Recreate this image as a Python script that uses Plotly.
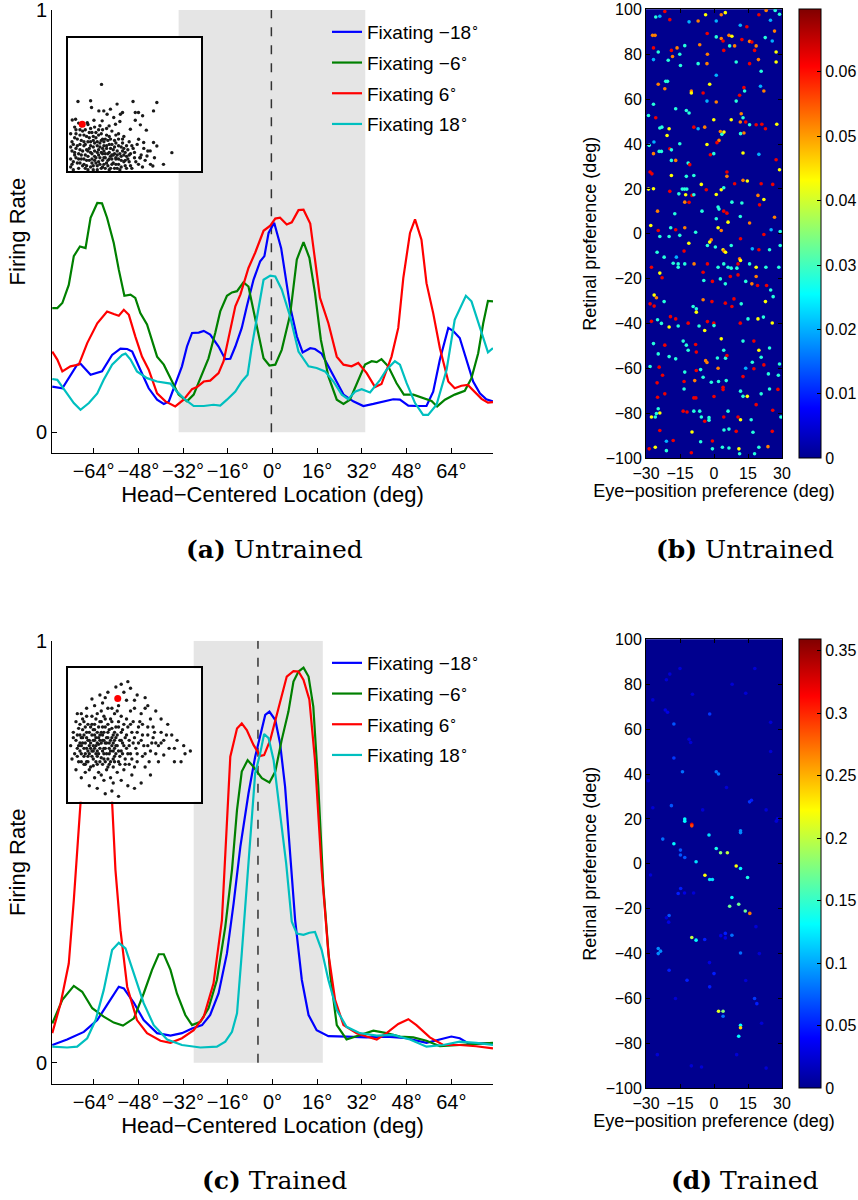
import numpy as np
import plotly.graph_objects as go

W, H = 858, 1200

# ---------------- Panel (a) Untrained tuning curves (x deg, firing rate) ----------------
a_blue = [(-78.8,.108),(-75.2,.104),(-69.9,.160),(-68.7,.162),(-65.1,.136),(-61,.144),(-57.4,.183),(-54.4,.198),
          (-52,.197),(-50.2,.191),(-47.3,.148),(-44.3,.104),(-41.3,.077),(-38.9,.067),(-37.1,.073),(-34.8,.116),
          (-32.4,.156),(-30.6,.203),(-28.8,.235),(-26.4,.236),(-24.6,.240),(-22.3,.231),(-19.3,.203),(-16.9,.173),
          (-15.1,.174),(-13.3,.203),(-11,.247),(-9.2,.298),(-6.8,.361),(-4.4,.405),(-2.9,.417),(-1.4,.472),
          (0.6,.496),(3.1,.436),(4.5,.377),(6.3,.298),(8.7,.227),(10.8,.189),(13.5,.199),(15.2,.197),(17.6,.186),
          (20,.156),(22.4,.124),(25.4,.089),(28.9,.073),(32.5,.062),(36.1,.067),(39.6,.073),(43.2,.078),(45.6,.077),
          (48.6,.063),(51.5,.062),(55.1,.062),(57.5,.096),(59.9,.172),(62.9,.247),(64.6,.240),(67,.223),(69.4,.172),
          (71.8,.120),(74.2,.092),(76.5,.078),(78.9,.073)]
a_green = [(-78.8,.294),(-77,.294),(-75.2,.306),(-72.9,.349),(-71.1,.417),(-68.9,.440),(-66.9,.436),(-65.1,.508),
           (-62.7,.543),(-61,.542),(-59.2,.508),(-56.8,.448),(-55,.385),(-53,.323),(-50.8,.326),(-49.1,.318),
           (-47.3,.282),(-44.9,.255),(-41.3,.179),(-38.9,.160),(-36.5,.128),(-33.6,.089),(-30.6,.073),(-28.2,.089),
           (-25.8,.128),(-22.9,.175),(-20.5,.235),(-18.7,.286),(-16.3,.323),(-14.5,.331),(-12.7,.334),(-10.4,.355),
           (-8.6,.345),(-6.8,.286),(-5,.227),(-3.2,.175),(-1.1,.158),(1,.160),(3.3,.195),(6.3,.278),(8.7,.409),
           (11.1,.450),(13.2,.413),(15.2,.330),(17.3,.219),(20,.132),(23,.077),(25.4,.067),(27.7,.077),(30.7,.124),
           (33.1,.160),(35.5,.168),(37.3,.166),(39,.173),(41.4,.156),(44.4,.116),(47,.089),(50.4,.089),(53.9,.081),
           (56.9,.074),(58.9,.061),(61.7,.077),(65.2,.089),(68.8,.098),(71.2,.128),(73.6,.187),(75.4,.258),
           (77.1,.311),(78.9,.310)]
a_red = [(-78.8,.191),(-77,.172),(-75.2,.144),(-72.3,.156),(-69.3,.160),(-66.3,.211),(-62.7,.258),(-59.2,.286),
         (-56.8,.280),(-55,.276),(-53.2,.290),(-51.4,.278),(-49.1,.227),(-46.7,.179),(-44.3,.148),(-41.3,.092),
         (-38.3,.073),(-34.8,.061),(-31.8,.077),(-28.8,.102),(-27,.107),(-24.6,.120),(-22.3,.122),(-19.3,.140),
         (-17.5,.168),(-15.1,.247),(-13.3,.298),(-11.5,.326),(-8.6,.389),(-6.2,.425),(-3.2,.477),(-0.8,.489),
         (1,.506),(2.7,.508),(5.1,.492),(6.9,.497),(9.3,.526),(11.1,.527),(13.5,.494),(15.2,.409),(17,.318),
         (20,.258),(23,.179),(25.4,.160),(28.3,.156),(30.7,.164),(33.7,.140),(36.7,.107),(39,.114),(42.6,.179),
         (45,.247),(46.8,.365),(49.2,.472),(51,.504),(53.3,.456),(55.1,.353),(57.5,.282),(59.9,.199),(62.9,.120),
         (65.2,.104),(67.6,.110),(69.9,.112),(71.8,.100),(74.8,.079),(77.1,.070),(78.9,.071)]
a_cyan = [(-78.8,.126),(-77,.124),(-74,.096),(-71.1,.069),(-68.7,.053),(-65.7,.069),(-62.7,.092),(-60.4,.124),
          (-57.4,.160),(-53.8,.183),(-52.6,.186),(-50.8,.172),(-48.5,.144),(-44.9,.128),(-41.3,.120),(-36.5,.115),
          (-34.2,.096),(-31.2,.077),(-28.2,.062),(-24.6,.062),(-21.1,.065),(-18.7,.063),(-16.3,.077),(-13.3,.096),
          (-11,.120),(-8.9,.136),(-7.4,.203),(-5.6,.274),(-3.2,.361),(-0.8,.371),(1,.369),(3.3,.338),(6.3,.274),
          (9.3,.191),(12.9,.156),(15.8,.152),(18.8,.144),(21.8,.120),(24.8,.089),(27.1,.078),(29.5,.096),
          (31.9,.102),(34.9,.094),(38.5,.124),(40.8,.148),(43.8,.168),(45.6,.160),(48,.116),(51,.069),(53.9,.041),
          (55.7,.041),(58.7,.065),(62.3,.148),(65.2,.266),(69.2,.323),(71.2,.310),(74.2,.247),(77.1,.189),(78.9,.199)]

# ---------------- Panel (c) Trained tuning curves ----------------
c_blue = [(-78.8,.042),(-73.5,.055),(-67.5,.073),(-62.7,.101),(-59.2,.137),(-55,.180),(-53.2,.176),(-49.6,.142),
          (-46.1,.101),(-41.3,.070),(-36.5,.064),(-32.4,.070),(-28.8,.081),(-25.2,.089),(-22.3,.113),(-19.3,.164),
          (-16.3,.259),(-13.9,.378),(-11.5,.512),(-8.6,.638),(-6.2,.725),(-3.8,.796),(-2.6,.824),(-1.1,.832),
          (1,.812),(2.7,.757),(4.5,.654),(6.3,.496),(8.1,.338),(10.5,.196),(12.9,.113),(15.8,.077),(20,.063),
          (26.5,.062),(33.7,.060),(40.8,.062),(48,.058),(55.1,.047),(59.9,.055),(64,.062),(67,.058),(70.6,.044),
          (75.4,.046),(78.9,.046)]
c_green = [(-78.8,.093),(-75.2,.149),(-71.1,.182),(-68.1,.168),(-64.5,.129),(-60.4,.109),(-56.8,.095),(-53.5,.088),
           (-49.6,.105),(-46.1,.164),(-43.1,.220),(-40.7,.257),(-38.9,.257),(-36.5,.220),(-34.2,.164),(-31.2,.113),
           (-28.8,.089),(-25.8,.097),(-22.9,.129),(-19.9,.196),(-16.9,.322),(-14.5,.457),(-12.7,.599),(-11,.690),
           (-8.9,.717),(-6.8,.701),(-3.8,.674),(-1.1,.664),(1,.690),(3.3,.765),(5.7,.832),(7.5,.903),(9.3,.927),
           (11.1,.936),(12.9,.915),(14.6,.844),(16.4,.654),(18.2,.417),(20.6,.212),(23,.089),(26.5,.055),(31.3,.066),
           (36.1,.076),(40.8,.070),(45.6,.062),(50.4,.060),(55.1,.052),(59.9,.039),(67,.042),(72.9,.046),(78.9,.047)]
c_red = [(-78.8,.070),(-75.8,.141),(-72.9,.235),(-71.1,.385),(-68.7,.615),(-66,.84),(-63,.93),(-60.2,.84),
         (-57.4,.618),(-56.2,.457),(-54.4,.314),(-52,.180),(-48.5,.101),(-44.9,.070),(-40.1,.052),(-36.5,.047),
         (-32.4,.058),(-28.2,.077),(-24.6,.109),(-21.1,.188),(-18.1,.338),(-15.1,.725),(-12.7,.792),(-11,.804),
         (-9.2,.788),(-6.8,.753),(-4.4,.727),(-3,.729),(-0.8,.765),(1.5,.824),(3.3,.875),(5.1,.915),(7.5,.928),
         (9.3,.927),(11.1,.907),(13.2,.860),(15.2,.717),(17.6,.457),(20,.259),(22.4,.149),(25.4,.089),(30.1,.070),
         (33.7,.062),(37.3,.055),(40.8,.070),(45,.092),(48.6,.103),(51.5,.089),(56.3,.060),(61.1,.042),(67,.042),
         (72.9,.039),(78.9,.034)]
c_cyan = [(-78.8,.038),(-73.5,.036),(-69.9,.038),(-66.3,.058),(-63.3,.101),(-60.4,.172),(-57.4,.267),(-55,.284),
          (-52.6,.271),(-49.6,.212),(-46.1,.141),(-42.5,.089),(-37.7,.055),(-32.4,.042),(-25.8,.036),(-19.9,.038),
          (-16.9,.050),(-14.5,.073),(-12.7,.117),(-11,.259),(-8.6,.480),(-6.2,.686),(-4.4,.733),(-3,.779),
          (-1.4,.769),(0.4,.717),(2.7,.591),(4.9,.472),(6.9,.334),(8.7,.306),(11.1,.303),(13.2,.308),(15.2,.310),
          (17.6,.267),(20,.196),(23,.125),(26.5,.085),(31.3,.070),(37.3,.064),(43.2,.066),(49.2,.055),(55.1,.038),
          (61.1,.042),(67,.050),(72.9,.047),(78.9,.042)]

legend_names = ["Fixating −18<sup>∘</sup>", "Fixating −6<sup>∘</sup>", "Fixating 6<sup>∘</sup>", "Fixating 18<sup>∘</sup>"]
x_tick_vals = [-64, -48, -32, -16, 0, 16, 32, 48, 64]
x_tick_text = ["−64°", "−48°", "−32°", "−16°", "0°", "16°", "32°", "48°", "64°"]
a_window = (-33.6, 33.2)
a_centre = -0.4
c_window = (-28.2, 18.0)
c_centre = -5.2

# ---------------- Inset scatter clouds (normalised inset coordinates) ----------------
a_inset = [(0.252,0.651),(0.075,0.523),(0.17,0.528),(0.177,0.477),(0.269,0.452),(0.319,0.465),(0.369,0.503),
           (0.489,0.523),(0.668,0.515),(0.643,0.452),(0.506,0.44),(0.53,0.44),(0.561,0.415),(0.394,0.427),
           (0.41,0.44),(0.344,0.402),(0.294,0.427),(0.232,0.452),(0.032,0.384),(0.057,0.389),(0.145,0.364),
           (0.195,0.382),(0.257,0.377),(0.309,0.339),(0.357,0.352),(0.39,0.372),(0.469,0.314),(0.506,0.382),
           (0.544,0.347),(0.589,0.307),(0.531,0.239),(0.569,0.214),(0.643,0.214),(0.668,0.188),(0.618,0.151),
           (0.781,0.138),(0.718,0.05),(0.638,0.038),(0.544,0.1),(0.594,0.113),
           (0.03,0.05),(0.05,0.12),(0.04,0.2),(0.06,0.28),(0.08,0.02),(0.08,0.09),(0.09,0.16),(0.1,0.23),(0.11,0.3),
           (0.12,0.05),(0.13,0.12),(0.12,0.19),(0.14,0.26),(0.15,0.01),(0.16,0.08),(0.15,0.15),(0.17,0.22),
           (0.18,0.29),(0.19,0.04),(0.2,0.11),(0.19,0.18),(0.21,0.25),(0.22,0.01),(0.23,0.07),(0.22,0.14),
           (0.24,0.21),(0.25,0.28),(0.26,0.03),(0.27,0.1),(0.26,0.17),(0.28,0.24),(0.29,0.06),(0.3,0.13),
           (0.31,0.2),(0.32,0.02),(0.33,0.09),(0.34,0.16),(0.35,0.23),(0.36,0.05),(0.37,0.12),(0.38,0.19),
           (0.39,0.01),(0.4,0.08),(0.41,0.15),(0.43,0.04),(0.44,0.11),(0.46,0.07),(0.48,0.02),(0.5,0.1),
           (0.02,0.09),(0.06,0.17),(0.07,0.24),(0.1,0.12),(0.11,0.04),(0.13,0.2),(0.14,0.08),(0.16,0.17),
           (0.17,0.03),(0.18,0.13),(0.2,0.21),(0.21,0.06),(0.23,0.16),(0.24,0.1),(0.25,0.02),(0.27,0.19),
           (0.28,0.13),(0.3,0.04),(0.31,0.09),(0.32,0.17),(0.34,0.06),(0.35,0.13),(0.37,0.02),(0.38,0.09),
           (0.4,0.18),(0.42,0.12),(0.45,0.16),(0.47,0.13),(0.53,0.05),(0.55,0.12),(0.58,0.08),(0.6,0.15),
           (0.52,0.2),(0.46,0.22),(0.42,0.26),(0.38,0.28),(0.33,0.3),(0.29,0.32),(0.24,0.34),(0.2,0.33),
           (0.15,0.35),(0.1,0.34),(0.05,0.33),(0.04,0.01),(0.09,0.27),(0.13,0.31),(0.19,0.26),(0.26,0.24),
           (0.31,0.26),(0.36,0.27),(0.41,0.21),(0.44,0.19),(0.49,0.17),(0.57,0.17),(0.62,0.05),(0.65,0.1),
           (0.07,0.06),(0.14,0.04),(0.2,0.08),(0.27,0.05),(0.33,0.12),(0.22,0.19),(0.16,0.25),(0.09,0.2),
           (0.03,0.15),(0.12,0.09),(0.26,0.13),(0.36,0.09),(0.43,0.08),(0.29,0.17),(0.18,0.06),(0.05,0.25),
           (0.04,0.07),(0.06,0.1),(0.05,0.14),(0.03,0.22),(0.07,0.19),(0.08,0.13),(0.09,0.06),(0.1,0.09),
           (0.11,0.15),(0.12,0.22),(0.12,0.27),(0.13,0.02),(0.14,0.16),(0.15,0.11),(0.15,0.22),(0.16,0.29),
           (0.17,0.14),(0.17,0.19),(0.18,0.09),(0.19,0.01),(0.19,0.23),(0.2,0.15),(0.21,0.1),(0.21,0.29),
           (0.22,0.04),(0.22,0.22),(0.23,0.12),(0.23,0.27),(0.24,0.05),(0.24,0.18),(0.25,0.14),(0.25,0.23),
           (0.26,0.08),(0.26,0.31),(0.27,0.15),(0.27,0.22),(0.28,0.02),(0.28,0.1),(0.29,0.19),(0.29,0.27),
           (0.3,0.08),(0.3,0.23),(0.31,0.14),(0.31,0.01),(0.32,0.11),(0.32,0.24),(0.33,0.05),(0.33,0.2),
           (0.34,0.12),(0.35,0.02),(0.35,0.18),(0.36,0.1),(0.36,0.21),(0.37,0.15),(0.38,0.05),(0.38,0.24),
           (0.39,0.13),(0.4,0.03),(0.4,0.11),(0.41,0.24),(0.42,0.07),(0.42,0.17),(0.43,0.14),(0.44,0.02),
           (0.45,0.09),(0.46,0.12),(0.47,0.04),(0.48,0.19),(0.5,0.14),(0.51,0.07),(0.54,0.1),(0.56,0.03),
           (0.02,0.28),(0.02,0.18),(0.02,0.03),(0.06,0.31),(0.09,0.31),(0.08,0.36),(0.17,0.32),(0.23,0.31)]
a_inset_marked = [(0.107, 0.352)]

c_inset = [(0.45,0.9),(0.4,0.88),(0.36,0.86),(0.47,0.85),(0.3,0.82),(0.24,0.8),(0.18,0.77),(0.52,0.8),(0.58,0.78),
           (0.6,0.72),(0.66,0.68),(0.7,0.62),(0.75,0.58),(0.78,0.5),(0.82,0.46),(0.88,0.36),(0.85,0.3),(0.8,0.3),
           (0.72,0.35),(0.68,0.3),(0.62,0.2),(0.58,0.26),(0.55,0.14),(0.5,0.1),(0.45,0.12),(0.38,0.04),(0.33,0.08),
           (0.28,0.06),(0.22,0.1),(0.16,0.12),(0.1,0.18),(0.06,0.24),(0.03,0.32),(0.02,0.42),(0.04,0.52),(0.06,0.6),
           (0.1,0.66),(0.14,0.7),(0.2,0.72),(0.26,0.74),(0.55,0.66),(0.64,0.56),(0.72,0.46),(0.76,0.4),(0.66,0.44),
           (0.62,0.38),(0.6,0.5),(0.56,0.58),(0.5,0.7),(0.44,0.76),(0.33,0.7),(0.92,0.38),(0.87,0.42),(0.8,0.4),
           (0.7,0.52),(0.52,0.3),(0.48,0.2),(0.4,0.16),(0.34,0.14),(0.27,0.16),(0.2,0.18),(0.12,0.28),
           (0.08,0.3),(0.1,0.36),(0.08,0.42),(0.1,0.48),(0.08,0.55),(0.12,0.6),(0.14,0.52),(0.13,0.44),(0.15,0.38),
           (0.14,0.3),(0.16,0.24),(0.18,0.34),(0.19,0.42),(0.18,0.5),(0.2,0.58),(0.18,0.64),(0.22,0.66),(0.24,0.6),
           (0.22,0.52),(0.24,0.46),(0.22,0.38),(0.21,0.3),(0.23,0.22),(0.26,0.28),(0.27,0.36),(0.28,0.44),
           (0.26,0.5),(0.28,0.56),(0.27,0.64),(0.3,0.7),(0.32,0.62),(0.3,0.52),(0.32,0.46),(0.31,0.4),(0.3,0.32),
           (0.29,0.24),(0.32,0.18),(0.34,0.26),(0.35,0.34),(0.36,0.42),(0.34,0.5),(0.36,0.56),(0.35,0.66),
           (0.38,0.72),(0.4,0.64),(0.38,0.6),(0.4,0.52),(0.39,0.46),(0.4,0.38),(0.38,0.3),(0.37,0.22),(0.42,0.24),
           (0.43,0.32),(0.44,0.4),(0.43,0.48),(0.45,0.56),(0.44,0.62),(0.47,0.68),(0.49,0.6),(0.48,0.52),
           (0.49,0.44),(0.47,0.36),(0.46,0.28),(0.5,0.26),(0.52,0.36),(0.53,0.44),(0.52,0.52),(0.54,0.6),
           (0.56,0.5),(0.57,0.42),(0.56,0.34),(0.6,0.42),(0.61,0.3),(0.64,0.48),(0.66,0.36),(0.68,0.42),(0.12,0.4),
           (0.16,0.46),(0.2,0.46),(0.24,0.4),(0.25,0.33),(0.19,0.27),(0.15,0.34),(0.17,0.56),(0.26,0.56),
           (0.33,0.55),(0.34,0.38),(0.29,0.48),(0.41,0.44),(0.36,0.48),(0.21,0.62),(0.11,0.54),(0.06,0.46),
           (0.09,0.38),(0.13,0.22),(0.25,0.2),(0.31,0.28),(0.23,0.43),(0.17,0.4),(0.27,0.4),(0.33,0.42),(0.2,0.5),
           (0.15,0.58),(0.25,0.68),(0.37,0.68),(0.42,0.58),(0.46,0.46),(0.39,0.34),(0.35,0.3),(0.28,0.3),
           (0.22,0.34),(0.05,0.36),(0.04,0.48),(0.07,0.66),(0.28,0.78),(0.42,0.82),(0.5,0.76),(0.58,0.7),
           (0.62,0.62),(0.11,0.44),(0.14,0.48),(0.19,0.38),(0.23,0.48),(0.27,0.46),(0.31,0.36),(0.21,0.42),
           (0.16,0.42),(0.13,0.36),(0.25,0.52),(0.3,0.58),(0.19,0.54),(0.35,0.46),(0.09,0.5),(0.07,0.34),
           (0.07,0.4),(0.07,0.5),(0.09,0.44),(0.09,0.58),(0.1,0.3),(0.1,0.42),(0.11,0.48),(0.11,0.62),(0.12,0.34),
           (0.12,0.5),(0.13,0.28),(0.13,0.56),(0.14,0.4),(0.14,0.64),(0.15,0.46),(0.15,0.3),(0.16,0.36),(0.16,0.52),
           (0.17,0.26),(0.17,0.44),(0.18,0.38),(0.18,0.58),(0.19,0.46),(0.19,0.32),(0.2,0.4),(0.2,0.54),(0.21,0.36),
           (0.21,0.48),(0.22,0.28),(0.22,0.44),(0.23,0.56),(0.23,0.36),(0.24,0.5),(0.24,0.3),(0.25,0.44),(0.25,0.6),
           (0.26,0.38),(0.26,0.46),(0.27,0.32),(0.27,0.52),(0.28,0.4),(0.28,0.62),(0.29,0.36),(0.29,0.44),(0.3,0.48),
           (0.3,0.26),(0.31,0.54),(0.31,0.44),(0.32,0.38),(0.32,0.3),(0.33,0.48),(0.33,0.6),(0.34,0.44),(0.34,0.32),
           (0.35,0.52),(0.35,0.4),(0.36,0.36),(0.37,0.5),(0.37,0.42),(0.38,0.56),(0.38,0.38),(0.39,0.28),(0.4,0.46),
           (0.41,0.36),(0.41,0.54),(0.42,0.42),(0.43,0.28),(0.44,0.5),(0.45,0.36),(0.46,0.42),(0.47,0.58),(0.48,0.32),
           (0.5,0.48),(0.51,0.4),(0.53,0.56),(0.55,0.46),(0.58,0.36),(0.6,0.56),(0.63,0.44),(0.65,0.52),(0.7,0.44),
           (0.74,0.5)]
c_inset_marked = [(0.374, 0.774)]

# ---------------- Heat maps: (eye-position pref, retinal pref, weight) ----------------
b_dots = [(-21.7,99,.062),(-3.7,97.6,.043),(3.2,97.6,.052),(5,98.5,.043),(23,99.5,.052),(27,99.5,.028),(28.9,97.8,.028),
 (19.8,97.6,.062),(-25.7,96.6,.028),(-23.9,96.9,.02),(-19.5,95.4,.062),(-7,94.8,.052),(-11,94.4,.02),(1,94.8,.02),
 (11.6,92.9,.02),(14.5,92.2,.062),(24.9,95.1,.02),(-27.1,88.4,.052),(-26,88.4,.052),(-3,89.2,.062),(1,87.7,.028),
 (3.2,87,.052),(4,85.9,.062),(6.6,88.4,.052),(7.9,88,.043),(6.9,83.7,.028),(9.1,83.7,.052),(12.3,86.5,.062),
 (15.7,85.7,.052),(16.7,85.4,.062),(18.6,83.7,.052),(17.9,81.7,.062),(22.6,87.4,.028),(26.7,90.3,.052),
 (25.7,85.9,.02),(-26.7,82.8,.062),(-24.6,81,.028),(-18.8,81.7,.062),(-16.3,82.8,.052),(-12.9,83.8,.028),
 (-15.1,80,.028),(-6.3,84.2,.052),(-2.9,80,.052),(4.3,81.7,.062),(27.4,81,.043),(-20.2,77.3,.028),(-26.7,77.6,.02),
 (-18.3,79,.052),(-14.8,75,.028),(-7,75.8,.028),(-3.1,75.8,.052),(9.8,76.5,.028),(15.7,75.8,.062),(19.6,77.6,.052),
 (27.4,76.5,.043),(20.8,72.4,.028),(1,70.6,.02),(-24.6,66.6,.052),(-21.3,67.9,.028),(-20.5,67.9,.028),
 (-21.7,64.6,.052),(-10,63.6,.052),(-10,62.7,.043),(-4.8,62.7,.062),(-1.9,66.6,.043),(11.3,61.7,.062),
 (13.2,65.1,.062),(13.5,63.6,.028),(20.5,65.7,.02),(22,63.6,.052),(9.8,59.1,.028),(-26.7,57.7,.028),(1,58.7,.052),
 (-3.1,59.1,.02),(-16.9,55.7,.028),(-12.2,54.9,.028),(-11,53.8,.028),(-28.9,52.7,.028),(-25.7,51.7,.062),
 (-0.1,50.8,.043),(7.6,50.8,.043),(12,53.5,.052),(12.8,51.7,.028),(11.6,49.8,.052),(14,49.8,.062),(15.7,48.6,.028),
 (18.6,48.6,.062),(21.1,48.8,.062),(22.7,46.8,.062),(27.7,48.8,.043),(-8.9,47.5,.062),(-7,46.8,.02),(-23.9,47.1,.028),
 (-23,47.5,.028),(-19.8,46.8,.043),(-20.7,43.8,.043),(-4.1,47.5,.052),(2.8,45.6,.052),(3.5,44.3,.028),(4.4,45.3,.043),
 (2.2,41.6,.052),(1.3,40.6,.062),(11.7,44.6,.028),(13.2,44.9,.052),(-28.6,39.4,.028),(-26.5,40.9,.02),(-15.1,40.1,.028),
 (-3.1,39.8,.043),(-24.2,36.7,.028),(-23.2,36.7,.028),(-26.7,35.7,.052),(-19.5,37.9,.062),(-18.8,37.4,.028),
 (-18.8,32.7,.028),(-16.9,32.7,.052),(-11.4,31.5,.028),(-10.7,30.8,.062),(-0.1,35.7,.028),(-1.6,35.2,.062),
 (12.8,36,.043),(19.8,35.4,.02),(27.4,33,.062),(28.9,28.5,.043),(-28.2,27.5,.062),(-27.4,26.7,.062),(-18.8,26,.043),
 (-12.2,25.6,.028),(-8.9,26,.028),(-5.6,22,.043),(5.7,27.5,.062),(5.7,25.6,.052),(9.1,22.3,.062),(12.8,23.8,.052),
 (14.7,23.5,.043),(20.8,22.3,.062),(25.9,22,.062),(-28.9,19.9,.043),(-26.7,20.1,.043),(-19.5,18.9,.062),
 (-15.5,17.8,.028),(-14,19.9,.028),(-13,19.9,.028),(-12,19.9,.028),(-12.5,17.4,.043),(-9.7,17.1,.062),(-8.9,17.4,.028),
 (-12.9,14.1,.052),(-11,14,.062),(-24.9,10.1,.052),(-17.3,8.9,.028),(-3.4,19.6,.062),(3.2,19.6,.043),(1,17.5,.043),
 (4.3,20.5,.028),(12.3,13.7,.028),(20.1,12.9,.062),(22,15.3,.043),(19.4,17.1,.052),(7.9,14.1,.028),(1.8,11.9,.028),
 (2.2,11,.028),(4.3,10.1,.062),(5.7,9.2,.062),(6.2,5.2,.043),(-5.3,10.1,.028),(1,6.7,.028),(1.8,2.7,.043),
 (3.2,1.5,.052),(11.6,7.7,.028),(15.7,4.8,.052),(25.2,1.8,.02),(26.7,7.4,.052),(-27.9,3.7,.043),(-24.6,1.5,.062),
 (-19.1,2.7,.028),(-16.9,1.8,.062),(-12.9,2.7,.052),(-15.1,-0.7,.028),(-8.1,0.7,.028),(29.2,1,.028),(22,-0.3,.062),
 (-23.9,-1.2,.028),(-19.8,-1.2,.028),(-11.1,-4.2,.043),(-1.2,-2.7,.052),(-1.9,-3.7,.043),(-2.9,-5.2,.028),
 (0.6,-5.9,.028),(4,-7.1,.043),(4.4,-7.7,.052),(5.1,-8.2,.043),(7.6,-5.2,.028),(11.7,-2.2,.062),(16.9,-6.7,.02),
 (19.8,-7.1,.062),(24.5,-7.1,.028),(29.2,-5.2,.028),(-13.2,-7.7,.062),(-16.6,-10.4,.02),(-25.1,-8.2,.028),
 (-22,-10.4,.028),(-27.6,-14.9,.062),(-18,-13.1,.028),(-15.8,-13.4,.028),(-15.8,-14.9,.028),(-12.9,-13.4,.028),
 (-8.8,-13.4,.052),(-2.9,-13.4,.062),(1.8,-14.9,.028),(4.3,-13.4,.028),(6.2,-14.9,.028),(7.6,-15.3,.028),
 (10.1,-15.3,.028),(10.6,-13.4,.062),(11.3,-11.1,.052),(11.7,-11.9,.043),(15.7,-13.4,.028),(18.6,-14.9,.043),
 (22.9,-14.9,.028),(28.6,-14.9,.028),(-4.8,-17.1,.062),(-4.5,-20.8,.028),(-23.9,-17.5,.043),(-22.9,-19.6,.062),
 (-0.7,-21.2,.062),(2.8,-20.1,.028),(5,-22.3,.028),(7.2,-19,.062),(10.6,-18.3,.062),(14,-21.2,.028),(16.7,-22.3,.052),
 (18.6,-19,.052),(19.2,-23,.062),(23.2,-23,.062),(25,-25,.028),(26.1,-28,.028),(-26.4,-27.3,.043),(-25.4,-28.5,.052),
 (-28.2,-31.2,.062),(-26.4,-32.2,.062),(-22,-30.2,.028),(-27.6,-39,.062),(-23.2,-39.9,.028),(-24.9,-38.3,.028),
 (-19.2,-36.9,.062),(-16.9,-37.9,.062),(-9.2,-32.4,.028),(-7.8,-33.4,.028),(-7.8,-34.9,.043),(-4.8,-29.4,.052),
 (-0.9,-30.2,.062),(5,-30.9,.062),(7.9,-32.4,.062),(8.8,-29,.062),(12,-31.2,.028),(22.7,-30.2,.043),(19.4,-37.9,.043),
 (21.8,-37.1,.028),(15,-37.9,.028),(-11.4,-39.8,.062),(-2.9,-39.1,.062),(-0.1,-39.8,.062),(0,-40.9,.028),
 (11.6,-39.8,.062),(25.7,-39.7,.043),(-19.8,-41.5,.043),(-15.8,-41.1,.028),(-6.6,-41.1,.028),(-4.1,-43.1,.043),
 (-26.7,-48.9,.028),(-21.7,-49.6,.062),(-13.6,-47.8,.028),(-12.2,-49.6,.028),(-8.1,-49.3,.062),(-7.8,-52.7,.062),
 (-11.4,-51.9,.028),(3.2,-46.8,.043),(4.3,-51.9,.028),(5.1,-55.4,.028),(5.7,-54.2,.062),(12.8,-47.8,.028),
 (17.6,-47.8,.062),(19.8,-51.9,.043),(24.5,-50.9,.028),(-24.6,-53.5,.028),(-19.8,-54.7,.028),(-16.9,-55.7,.028),
 (-3.7,-56.5,.052),(-3.1,-57.3,.052),(1.5,-55.3,.028),(16.9,-57.2,.028),(20.8,-55,.028),(22,-58.4,.062),
 (-28.2,-59.1,.028),(-24.2,-59.4,.062),(28.9,-58,.028),(1.8,-59.9,.052),(14,-59.9,.02),(17.6,-60.1,.062),
 (-7.8,-60.9,.062),(-5.9,-60.5,.028),(-12.9,-61.6,.028),(-22.7,-63,.062),(28.4,-63,.028),(24,-62.4,.028),
 (12.8,-63.6,.062),(-13.2,-65.8,.062),(-8.5,-65.4,.052),(-25.1,-66.4,.062),(-4.8,-63.9,.028),(-1.2,-66.1,.028),
 (2,-65.8,.028),(5.4,-65.4,.028),(4,-68.4,.062),(4,-69.4,.062),(-13.2,-69.1,.028),(11.7,-70.1,.028),(12.8,-72.4,.028),
 (14.7,-72.4,.043),(20.8,-71.3,.028),(24.5,-69.1,.028),(28.2,-69.3,.062),(-24.9,-72.8,.062),(-21.7,-71.3,.062),
 (-8.9,-73.1,.062),(-8,-73.1,.062),(0,-72.5,.062),(18.6,-76.1,.062),(-24.6,-77.9,.028),(-25.4,-80.1,.028),
 (-23.9,-79.8,.043),(-27.6,-81.6,.043),(-25.9,-81.6,.028),(-13.6,-79,.062),(-11.9,-79.4,.062),(-8.9,-79,.028),
 (-6.3,-79,.028),(-5.6,-81.6,.028),(-2.2,-81.9,.028),(-2.2,-83,.028),(-4.1,-83.5,.062),(4.3,-81.6,.062),(6.2,-79,.028),
 (10.6,-81.6,.062),(11.7,-82.8,.043),(16.4,-82.8,.028),(25.9,-78.6,.062),(29.5,-81.6,.028),(-23.9,-87.6,.062),
 (-9.7,-88.3,.043),(4.4,-87.4,.028),(6.6,-87,.028),(9.8,-88,.062),(17.2,-88.4,.028),(25.7,-88,.062),(-21,-92.4,.02),
 (-18,-92.1,.062),(-5.9,-92.6,.028),(-0.7,-92.3,.062),(-28.6,-95.8,.062),(-25.9,-95.1,.043),(-21,-96.6,.028),
 (-10,-97.5,.062),(-0.7,-95.8,.028),(3.7,-95.1,.028),(6.6,-95.4,.028),(11,-95.8,.043),(11.3,-98,.028),
 (17.9,-98,.028),(19.8,-95.1,.028),(23.8,-94.8,.052)]

d_dots = [(-12.9,19.9,.13),(-12.9,19,.13),(-9.8,17.6,.32),(-9.8,16.9,.29),(-2.2,12.8,.12),(-22.6,11,.08),(-17.7,8.9,.13),
 (1,6.8,.14),(2.9,4.9,.18),(5.9,4.9,.2),(-14.8,6.1,.07),(-14.8,3.9,.07),(-12.9,2.8,.07),(-7.9,0.9,.12),(9.8,-1,.22),
 (11.7,-2.1,.13),(-4,-5.1,.22),(-1.9,-7,.12),(-0.7,-7,.12),(14.8,-6.1,.14),(7.9,-15,.13),(6.9,-18.9,.17),(10.9,-18,.17),
 (13.8,-21,.17),(15.8,-22.1,.27),(-19.8,-23,.07),(-9.8,-32.8,.2),(-7.9,-34,.13),(-24.6,-37.7,.09),(-24.6,-40,.09),
 (-23.6,-38.9,.09),(11.7,-39.7,.08),(2,-65.7,.21),(4,-65.7,.18),(4,-67.9,.08),(11.7,-71.9,.13),(11.7,-73,.24),
 (10.9,-76.8,.13),(-17.7,62.3,.07),(-17.7,47.1,.06),(-13.9,41,.08),(1,41,.08),(2,40,.08),(-18.8,25.9,.07),
 (11.7,14.7,.09),(11.7,13.9,.09),(-1.9,66.7,.06),(15.7,27.6,.06),(16.5,28.3,.05),(-19.8,-47.4,.05),(-11.9,-51.9,.05),
 (17.9,-60,.06),(18.9,-62.3,.05),(-14.7,-11,.05),(-15.8,-13.2,.05),(-4.1,-33.7,.05),(5,-31,.05),(7.9,-31.8,.08),
 (-1.9,-54.8,.05),(0,-48.9,.05),(-19.5,84.5,.025),(-21,82,.025),(-27,73,.025),(-9.5,75.5,.025),(-21.5,68.5,.03),
 (-20.5,67.5,.03),(-11,55.5,.025),(-10.3,54,.025),(-5,24,.025),(23,24,.025),(27.5,19,.025),(-9,-13,.025),
 (18.5,-28,.025),(14,-52,.025),(21,-71,.025),(-5.5,-90.5,.025),(23,-91,.025),(-2,-44,.03),(5.5,34,.025),(28,20,.025),
 (-28,-5,.025),(10,-85,.025),(-17,-60,.025),(25,50,.025),(8,80,.025),(-25,-85,.025),(20,-40,.025),(-10,-90,.025),
 (3,-32,.03),(5,-33,.03),(-13,-13,.03),(-20,-26,.03),(-21,-24,.025),(14,76,.025),(18,87,.025),(-15,87,.025),
 (25,63,.025),(-27,25,.025),(-29,37,.025)]

eye_range = [-30, 30]
ret_range = [-100, 100]
b_cbar_ticks = [0, 0.01, 0.02, 0.03, 0.04, 0.05, 0.06]
d_cbar_ticks = [0, 0.05, 0.1, 0.15, 0.2, 0.25, 0.3, 0.35]
b_zmax, d_zmax = 0.0697, 0.359

captions = ["<b>(a)</b> Untrained", "<b>(b)</b> Untrained", "<b>(c)</b> Trained", "<b>(d)</b> Trained"]

# ---------------- helpers ----------------
def fx(px):
    return px / W

def fy(py):
    return 1 - py / H

JET = [[0, "#00008F"], [0.111, "#0000FF"], [0.365, "#00FFFF"], [0.619, "#FFFF00"], [0.873, "#FF0000"], [1, "#800000"]]
FONT = "Liberation Sans, Arial, sans-serif"
COLORS = ["#0000FF", "#008000", "#FF0000", "#00BFBF"]

fig = go.Figure()

# Curves panels
for curves, xa, ya, leg in [([a_blue, a_green, a_red, a_cyan], "x", "y", "legend"),
                             ([c_blue, c_green, c_red, c_cyan], "x4", "y4", "legend2")]:
    for k, (pts, col, name) in enumerate(zip(curves, COLORS, legend_names)):
        xs, ys = zip(*pts)
        fig.add_trace(go.Scatter(x=xs, y=ys, mode="lines", line=dict(color=col, width=2.2),
                                 name=name, xaxis=xa, yaxis=ya, legend=leg, legendgroup=f"{leg}{k}",
                                 hoverinfo="skip"))

# Insets
for pts, marked, xa, ya in [(a_inset, a_inset_marked, "x2", "y2"), (c_inset, c_inset_marked, "x5", "y5")]:
    xs, ys = zip(*pts)
    fig.add_trace(go.Scatter(x=xs, y=ys, mode="markers", marker=dict(color="#1a1a1a", size=3.4),
                             xaxis=xa, yaxis=ya, showlegend=False, hoverinfo="skip"))
    mx, my = zip(*marked)
    fig.add_trace(go.Scatter(x=mx, y=my, mode="markers", marker=dict(color="#FF0000", size=7),
                             xaxis=xa, yaxis=ya, showlegend=False, hoverinfo="skip"))

# Heatmaps: zero-valued background field plus the weight dots coloured on the same scale
for dots, xa, ya, zmax, ticks, top, bot in [(b_dots, "x3", "y3", b_zmax, b_cbar_ticks, 9.3, 458.3),
                                           (d_dots, "x6", "y6", d_zmax, d_cbar_ticks, 639.3, 1088.3)]:
    fig.add_trace(go.Heatmap(x=eye_range, y=ret_range, z=[[0, 0], [0, 0]], colorscale=JET, zmin=0, zmax=zmax,
                             xaxis=xa, yaxis=ya, hoverinfo="skip", showlegend=False,
                             colorbar=dict(x=fx(799), xanchor="left", y=fy(bot), yanchor="bottom",
                                           len=(bot - top) / H, lenmode="fraction", thickness=21.7,
                                           thicknessmode="pixels", xpad=0, ypad=0, outlinecolor="black",
                                           outlinewidth=1, tickvals=ticks, ticks="inside", ticklen=4,
                                           tickcolor="black", tickfont=dict(family=FONT, size=16, color="black"))))
    ex, ry, v = zip(*dots)
    fig.add_trace(go.Scatter(x=ex, y=ry, mode="markers", xaxis=xa, yaxis=ya, showlegend=False, hoverinfo="skip",
                             marker=dict(size=3.6, color=v, colorscale=JET, cmin=0, cmax=zmax, showscale=False,
                                         line=dict(width=0))))

layout = dict(width=W, height=H, margin=dict(l=0, r=0, t=0, b=0, autoexpand=False), autosize=False,
              paper_bgcolor="white", plot_bgcolor="white", showlegend=True)

def curve_axes(top, bottom):
    xax = dict(domain=[fx(52), fx(493)], range=[-78.9, 78.9], tickvals=x_tick_vals, ticktext=x_tick_text,
               ticks="inside", ticklen=5, tickcolor="black", showline=True, linecolor="black", linewidth=1,
               showgrid=False, zeroline=False, tickfont=dict(family=FONT, size=20, color="black"),
               tickangle=0, automargin=False, ticklabeloverflow="allow",
               title=dict(text="Head−Centered Location (deg)", font=dict(family=FONT, size=22, color="black"),
                          standoff=0))
    yax = dict(domain=[fy(bottom), fy(top)], range=[-0.05, 1], tickvals=[0, 1], ticktext=["0", "1"],
               ticks="inside", ticklen=5, tickcolor="black", showline=True, linecolor="black", linewidth=1,
               showgrid=False, zeroline=False, tickfont=dict(family=FONT, size=20, color="black"),
               automargin=False, ticklabeloverflow="allow",
               title=dict(text="Firing Rate", font=dict(family=FONT, size=22, color="black"), standoff=4))
    return xax, yax

def inset_axes(top, bottom, anchor_x, anchor_y):
    common = dict(showline=True, linecolor="black", linewidth=1.5, mirror=True, showgrid=False,
                  zeroline=False, showticklabels=False, ticks="", automargin=False)
    xax = dict(domain=[fx(68), fx(201)], range=[0, 1], anchor=anchor_y, **common)
    yax = dict(domain=[fy(bottom), fy(top)], range=[0, 1], anchor=anchor_x, **common)
    return xax, yax

def heat_axes(top, bottom, anchor_x, anchor_y):
    tf = dict(family=FONT, size=16, color="black")
    common = dict(showline=True, linecolor="black", linewidth=1, mirror="ticks", showgrid=False,
                  zeroline=False, ticks="inside", ticklen=4, tickcolor="black", tickfont=tf, automargin=False,
                  ticklabeloverflow="allow")
    xax = dict(domain=[fx(646), fx(782)], range=eye_range, tickvals=[-30, -15, 0, 15, 30], anchor=anchor_y,
               tickangle=0,
               title=dict(text="Eye−position preference (deg)", font=dict(family=FONT, size=18, color="black"),
                          standoff=0), **common)
    yax = dict(domain=[fy(bottom), fy(top)], range=ret_range, tickvals=list(range(-100, 101, 20)),
               anchor=anchor_x,
               title=dict(text="Retinal preference (deg)", font=dict(family=FONT, size=18, color="black"),
                          standoff=4), **common)
    return xax, yax

xa1, ya1 = curve_axes(10, 453.3)
xa4, ya4 = curve_axes(640.7, 1083.8)
xa1["anchor"], ya1["anchor"] = "y", "x"
xa4["anchor"], ya4["anchor"] = "y4", "x4"
xa2, ya2 = inset_axes(38, 171, "x2", "y2")
xa5, ya5 = inset_axes(668.3, 801.7, "x5", "y5")
xa3, ya3 = heat_axes(9.3, 458.3, "x3", "y3")
xa6, ya6 = heat_axes(639.3, 1088.3, "x6", "y6")

layout.update(xaxis=xa1, yaxis=ya1, xaxis2=xa2, yaxis2=ya2, xaxis3=xa3, yaxis3=ya3,
              xaxis4=xa4, yaxis4=ya4, xaxis5=xa5, yaxis5=ya5, xaxis6=xa6, yaxis6=ya6)

leg_common = dict(bgcolor="rgba(0,0,0,0)", borderwidth=0, xanchor="left", yanchor="bottom",
                  font=dict(family=FONT, size=19, color="black"), tracegroupgap=3, itemwidth=30)
layout["legend"] = dict(x=fx(327), y=fy(143), **leg_common)
layout["legend2"] = dict(x=fx(327), y=fy(774), **leg_common)

shapes = []
for win, centre, xr, yr in [(a_window, a_centre, "x", "y"), (c_window, c_centre, "x4", "y4")]:
    shapes.append(dict(type="rect", xref=xr, yref=yr, x0=win[0], x1=win[1], y0=0, y1=1,
                       fillcolor="#E5E5E5", line=dict(width=0), layer="below"))
    shapes.append(dict(type="line", xref=xr, yref=yr, x0=centre, x1=centre, y0=0, y1=1,
                       line=dict(color="#333333", width=1.5, dash="dash"), layer="below"))
layout["shapes"] = shapes

annotations = []
for text, cx, cy in zip(captions, [274, 745, 274, 745], [550, 550, 1180, 1180]):
    annotations.append(dict(text=text, x=fx(cx), y=fy(cy), xref="paper", yref="paper", showarrow=False,
                            xanchor="center", yanchor="middle",
                            font=dict(family="DejaVu Serif, serif", size=25, color="black")))
layout["annotations"] = annotations

fig.update_layout(**layout)
fig.write_html("out.html")
